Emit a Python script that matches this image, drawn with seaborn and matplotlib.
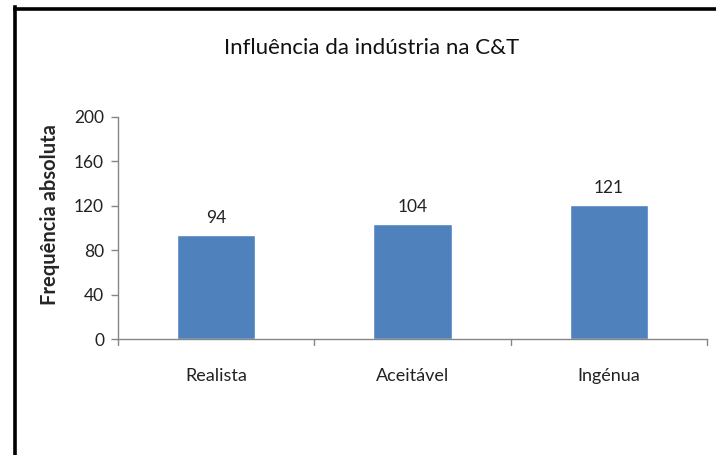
import matplotlib
matplotlib.use("Agg")
import matplotlib.pyplot as plt
from matplotlib.lines import Line2D
import pandas as pd
import seaborn as sns

# chart data
categorias = ["Realista", "Aceitável", "Ingénua"]
frequencias = [94, 104, 121]
yticks = [0, 40, 80, 120, 160, 200]

sns.set_style("white")
plt.rcParams['font.family'] = ['Lato', 'DejaVu Sans']

df = pd.DataFrame({"categoria": categorias, "freq": frequencias})

fig = plt.figure(figsize=(7.16, 4.55), dpi=100)
ax = fig.add_axes([0.1648, 0.2549, 0.8226, 0.488])

sns.barplot(data=df, x="categoria", y="freq", color="#4F81BD", width=0.4,
            saturation=1, ax=ax)

# value labels above bars
for i, v in enumerate(frequencias):
    ax.text(i, v + 8, str(v), ha="center", va="bottom", fontsize=12.5, color="#222222")

ax.set_xlim(-0.5, 2.5)
ax.set_ylim(0, 200)
ax.set_yticks(yticks)
ax.set_yticklabels([str(t) for t in yticks], fontsize=12.5, color="#222222")
ax.set_xticks(range(len(categorias)))
ax.set_xticklabels(categorias, fontsize=13, color="#222222")
ax.tick_params(axis="x", length=0, pad=21)
ax.tick_params(axis="y", length=5, width=1, color="#868686", direction="out", left=True, pad=5)

# category boundary ticks pointing down (Excel style)
for b in [-0.5, 0.5, 1.5, 2.5]:
    ax.plot([b, b], [0, -0.025], transform=ax.get_xaxis_transform(),
            color="#868686", lw=1, clip_on=False)

for side in ["top", "right"]:
    ax.spines[side].set_visible(False)
for side in ["left", "bottom"]:
    ax.spines[side].set_color("#868686")
    ax.spines[side].set_linewidth(1)

ax.set_xlabel("")
ax.set_ylabel("Frequência absoluta", fontsize=14.5, fontweight="bold",
              va="center")
ax.yaxis.set_label_coords(-0.115, 0.56)

fig.text(372 / 716, 1 - 48 / 455, "Influência da indústria na C&T",
         ha="center", va="center", fontsize=16, color="#111111")

# black frame on left and top
fig.add_artist(Line2D([14.5 / 716, 14.5 / 716], [0, 1 - 7 / 455],
                      color="black", lw=2.6, solid_capstyle="projecting"))
fig.add_artist(Line2D([14.5 / 716, 1], [1 - 8.5 / 455, 1 - 8.5 / 455],
                      color="black", lw=2.6, solid_capstyle="projecting"))

fig.savefig("out.png", dpi=100)
